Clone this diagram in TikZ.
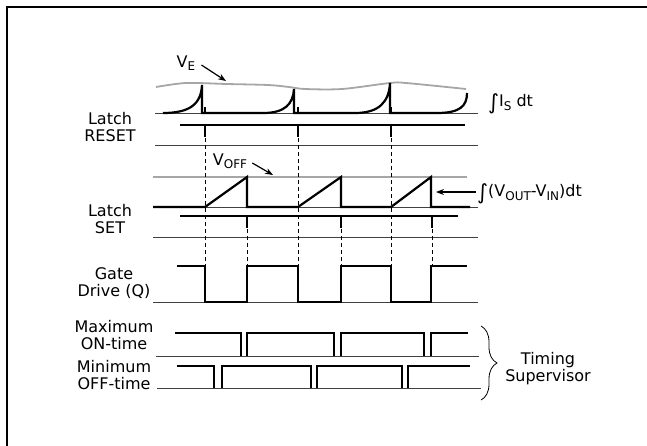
\documentclass[tikz,border=0pt]{standalone}
\usepackage{fontspec}
\setmainfont{DejaVu Sans}
\usepackage{tikz}
\usetikzlibrary{arrows.meta, decorations.pathreplacing}
\newcommand{\lowsub}[1]{\raisebox{-3.5pt}{\fontsize{12}{12}\selectfont #1}}
\newcommand{\bigint}{\raisebox{-3pt}{\fontsize{21}{21}\selectfont ∫}}

\begin{document}
\begin{tikzpicture}[x=1pt, y=-1pt,
    signal/.style={line width=2.2pt, black, line join=miter},
    rail/.style={line width=1pt, black!75},
    level/.style={line width=1.8pt, black!35},
    guide/.style={line width=0.8pt, dash pattern=on 4pt off 3pt},
    pulse/.style={line width=2pt, black},
    label/.style={align=center, inner sep=0pt, font=\fontsize{16}{17}\selectfont},
    pointer/.style={-{Stealth[length=8pt, width=6pt]}, line width=1.2pt}
]
    \useasboundingbox (0,0) rectangle (647,445);
    % frame
    \draw[line width=2pt] (7,446) -- (7,7) -- (648,7);

    % integral of I_S with V_E level
    \draw[level] plot[smooth] coordinates {(156,87) (186,83) (227,84) (268,85) (289,87) (305,89) (342,89) (390,83) (406,83) (466,89)};
    \draw[rail] (155,113) -- (478,113);
    \draw[signal] (163,113) .. controls (190,113) and (201,104) .. (202,85) -- (202,113)
        -- (263,113) .. controls (285,113) and (293,104) .. (294,89) -- (294,113)
        -- (355,113) .. controls (379,113) and (389,102) .. (390,83) -- (390,113)
        -- (437,113) .. controls (460,113) and (467,106) .. (467,93);
    \draw[line width=1.2pt] (205,107) -- (205,113);
    \draw[line width=1.2pt] (298,107) -- (298,113);
    \draw[line width=1.2pt] (391,107) -- (391,113);
    \node[label] (ve) at (186,63) {V\lowsub{E}};
    \coordinate (ve-tip) at (226,81);
    \draw[pointer] ([xshift=6pt,yshift=-2pt]ve.east) -- (ve-tip);
    \node[label, anchor=west] (is-lbl) at (488,104) {\bigint I\lowsub{S} dt};

    % latch reset
    \node[label] (reset-lbl) at (110,127) {Latch\\RESET};
    \draw[signal] (180,125) -- (465,125);
    \draw[pulse] (205,125) -- (205,137);
    \draw[pulse] (298,125) -- (298,137);
    \draw[pulse] (391,125) -- (391,137);
    \draw[rail] (155,145) -- (478,145);

    % integral of (Vout-Vin) with V_OFF level
    \draw[level] (153,177) -- (467,177);
    \draw[rail] (153,207) -- (478,207);
    \draw[signal] (153,207) -- (205,207) -- (247,177) -- (247,207)
        -- (298,207) -- (341,177) -- (341,207)
        -- (391,207) -- (431,177) -- (431,207) -- (470,207);
    \node[label] (voff) at (230,161) {V\lowsub{OFF}};
    \coordinate (voff-tip) at (273,175);
    \draw[pointer] ([xshift=5pt,yshift=-2pt]voff.east) -- (voff-tip);
    \node[label, anchor=west] (vint) at (477,194) {\bigint(V\lowsub{OUT}-V\lowsub{IN})dt};
    \coordinate (ramp-tip) at (436,192);
    \draw[pointer] ([xshift=-1pt]vint.west |- ramp-tip) -- (ramp-tip);

    % latch set
    \node[label] (set-lbl) at (110,219) {Latch\\SET};
    \draw[signal] (180,216) -- (458,216);
    \draw[pulse] (247,216) -- (247,228);
    \draw[pulse] (341,216) -- (341,228);
    \draw[pulse] (432,216) -- (432,228);
    \draw[rail] (153,237) -- (478,237);

    % dashed guides down to the gate drive
    \draw[guide] (205,138) -- (205,266);
    \draw[guide] (298,138) -- (298,266);
    \draw[guide] (391,138) -- (391,266);
    \draw[guide] (247,229) -- (247,266);
    \draw[guide] (341,229) -- (341,266);
    \draw[guide] (432,229) -- (432,266);

    % gate drive
    \node[label] (gate-lbl) at (114,283) {Gate\\Drive (Q)};
    \draw[rail] (153,302) -- (478,302);
    \draw[signal] (177,266) -- (205,266) -- (205,302) -- (247,302) -- (247,266)
        -- (298,266) -- (298,302) -- (341,302) -- (341,266)
        -- (391,266) -- (391,302) -- (431,302) -- (431,266) -- (467,266);

    % maximum on-time
    \node[label] (maxon-lbl) at (114,335) {Maximum\\ON-time};
    \draw[rail] (156,356) -- (479,356);
    \draw[signal] (175,333) -- (241,333) -- (241,356);
    \draw[signal] (247,356) -- (247,333) -- (334,333) -- (334,356);
    \draw[signal] (341,356) -- (341,333) -- (424,333) -- (424,356);
    \draw[signal] (431,356) -- (431,333) -- (468,333);

    % minimum off-time
    \node[label] (minoff-lbl) at (114,375) {Minimum\\OFF-time};
    \draw[rail] (157,388) -- (481,388);
    \draw[signal] (177,366) -- (214,366) -- (214,388);
    \draw[signal] (222,388) -- (222,366) -- (311,366) -- (311,388);
    \draw[signal] (317,388) -- (317,366) -- (402,366) -- (402,388);
    \draw[signal] (408,388) -- (408,366) -- (470,366);

    % timing supervisor
    \draw[decorate, decoration={brace, amplitude=16pt}, line width=0.8pt] (481,326) -- (481,400);
    \node[label] (timing) at (548,369) {Timing\\Supervisor};
\end{tikzpicture}
\end{document}
